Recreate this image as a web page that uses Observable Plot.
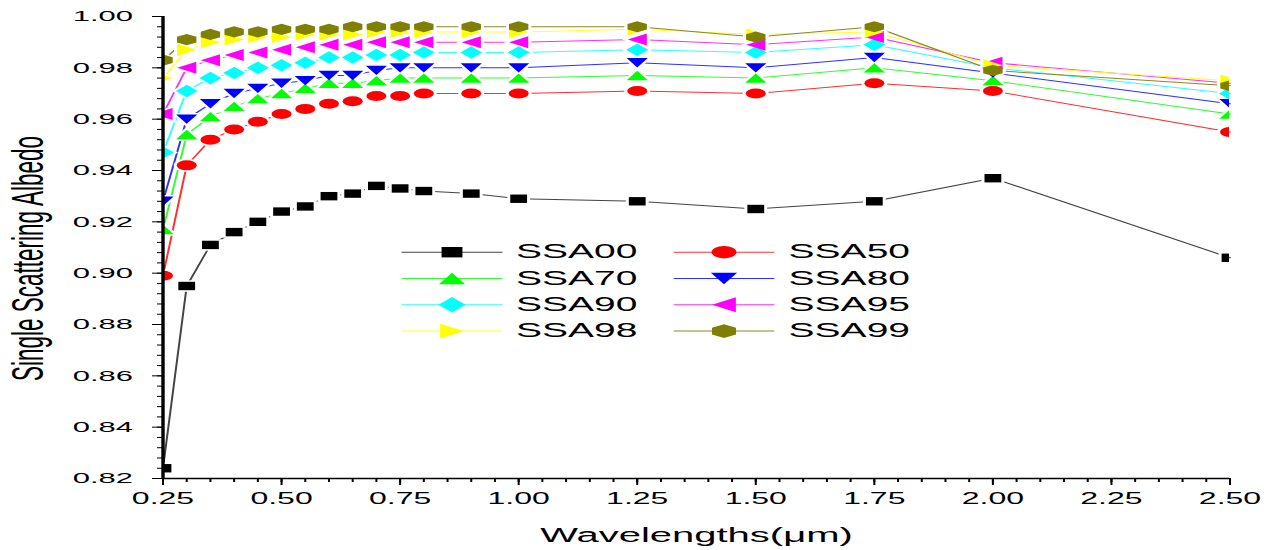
<!DOCTYPE html>
<html><head><meta charset="utf-8">
<script src="https://cdn.jsdelivr.net/npm/d3@7"></script>
<script src="https://cdn.jsdelivr.net/npm/@observablehq/plot@0.6"></script>
<style>html,body{margin:0;padding:0;background:#fff;} #chart svg{display:block;}</style>
</head><body><div id="chart"></div>
<script>
// ---- data ----
const wavelengths = [0.25,0.30,0.35,0.40,0.45,0.50,0.55,0.60,0.65,0.70,0.75,0.80,0.90,1.00,1.25,1.50,1.75,2.00,2.50];
const seriesNames = ["SSA00","SSA50","SSA70","SSA80","SSA90","SSA95","SSA98","SSA99"];
const ssa00 = [0.824,0.895,0.911,0.916,0.920,0.924,0.926,0.930,0.931,0.934,0.933,0.932,0.931,0.929,0.928,0.925,0.928,0.937,0.906];
const ssa50 = [0.899,0.942,0.952,0.956,0.959,0.962,0.964,0.966,0.967,0.969,0.969,0.970,0.970,0.970,0.971,0.970,0.974,0.971,0.955];
const ssa70 = [0.917,0.954,0.961,0.965,0.968,0.970,0.972,0.974,0.974,0.975,0.976,0.976,0.976,0.976,0.977,0.976,0.980,0.975,0.962];
const ssa80 = [0.928,0.960,0.966,0.970,0.972,0.974,0.975,0.977,0.977,0.979,0.980,0.980,0.980,0.980,0.982,0.980,0.984,0.978,0.966];
const ssa90 = [0.947,0.971,0.976,0.978,0.980,0.981,0.982,0.984,0.984,0.985,0.985,0.986,0.986,0.986,0.987,0.986,0.989,0.980,0.970];
const ssa95 = [0.962,0.980,0.983,0.985,0.986,0.987,0.988,0.989,0.989,0.990,0.990,0.990,0.990,0.990,0.991,0.989,0.992,0.982,0.974];
const ssa98 = [0.976,0.987,0.990,0.991,0.992,0.992,0.993,0.993,0.993,0.994,0.994,0.994,0.994,0.994,0.995,0.993,0.994,0.981,0.975];
const ssa99 = [0.983,0.991,0.993,0.994,0.994,0.995,0.995,0.995,0.996,0.996,0.996,0.996,0.996,0.996,0.996,0.992,0.996,0.979,0.973];
const xTicks = [0.25,0.50,0.75,1.00,1.25,1.50,1.75,2.00,2.25,2.50];
const yTicks = [0.82,0.84,0.86,0.88,0.90,0.92,0.94,0.96,0.98,1.00];
const xLabel = "Wavelengths(\u03BCm)";
const yLabel = "Single Scattering Albedo";

// ---- styles ----
const seriesValues = [ssa00, ssa50, ssa70, ssa80, ssa90, ssa95, ssa98, ssa99];
const colors = ["#000000","#ff0000","#00ff00","#0000ff","#00ffff","#ff00ff","#ffff00","#808000"];
const lineColors = ["#444444","#ff3030","#30ff30","#3030ff","#30ffff","#ff30ff","#ffff30","#8a8a20"];

function poly(pts) {
  return {draw(c, s) {
    const k = Math.sqrt(s / Math.PI) / 5;
    pts.forEach(([x, y], i) => i ? c.lineTo(x * k, y * k) : c.moveTo(x * k, y * k));
    c.closePath();
  }};
}
const circleSym = {draw(c, s) { const r = Math.sqrt(s / Math.PI); c.moveTo(r, 0); c.arc(0, 0, r, 0, 2 * Math.PI); }};
const hexR = 5.6, hx = 0.866 * hexR;
const symbols = [
  poly([[-4.2,-4.2],[4.2,-4.2],[4.2,4.2],[-4.2,4.2]]),            // square
  circleSym,                                                     // circle
  poly([[0,-4.7],[5.3,4.7],[-5.3,4.7]]),                          // up triangle
  poly([[0,4.7],[5.3,-4.7],[-5.3,-4.7]]),                         // down triangle
  poly([[0,-6.3],[5.5,0],[0,6.3],[-5.5,0]]),                      // diamond
  poly([[-4.8,0],[4.8,-6],[4.8,6]]),                              // left triangle
  poly([[4.8,0],[-4.8,-6],[-4.8,6]]),                             // right triangle
  poly([[0,-hexR],[hx,-hexR/2],[hx,hexR/2],[0,hexR],[-hx,hexR/2],[-hx,-hexR/2]]) // hexagon
];
const hline = {draw(c) { c.moveTo(-25.2, 0); c.lineTo(25.2, 0); }};

const table = seriesNames.flatMap((name, i) => wavelengths.map((w, j) => ({series: name, x: w, y: seriesValues[i][j]})));

const W = 635, H = 550;
const mL = 81, mR = 20.5, mT = 16, mB = 72;
const xMinor = d3.range(0, 46).map(i => 0.25 + i * 0.05).filter(v => v <= 2.5001);
const yMinor = d3.range(0, 46).map(i => 0.82 + i * 0.004).filter(v => v <= 1.0001);
const fmt = d3.format(".2f");

const marks = [];
// lines
seriesNames.forEach((name, i) => {
  marks.push(Plot.line(table.filter(d => d.series === name), {x: "x", y: "y", stroke: lineColors[i], strokeWidth: 1}));
});
// halos (gap around markers)
seriesNames.forEach((name, i) => {
  marks.push(Plot.dot(table.filter(d => d.series === name), {x: "x", y: "y", symbol: symbols[i], r: 5, fill: "white", stroke: "white", strokeWidth: 3, clip: true}));
});
// markers
seriesNames.forEach((name, i) => {
  marks.push(Plot.dot(table.filter(d => d.series === name), {x: "x", y: "y", symbol: symbols[i], r: 5, fill: colors[i], stroke: "none", clip: true}));
});
// axes
marks.push(
  Plot.axisX(xMinor, {tickSize: 4, tickFormat: () => "", strokeWidth: 1, label: null}),
  Plot.axisX(xTicks, {tickSize: 7, tickPadding: 7, tickFormat: fmt, strokeWidth: 1, fontSize: 16, fill: "black", label: null}),
  Plot.axisY(yMinor, {tickSize: 2.5, tickFormat: () => "", strokeWidth: 1, label: null}),
  Plot.axisY(yTicks, {tickSize: 5, tickPadding: 10, tickFormat: fmt, strokeWidth: 1, fontSize: 15.5, fill: "black", label: null}),
  Plot.ruleX([xTicks[0]], {stroke: "black", strokeWidth: 1.7}),
  Plot.ruleY([yTicks[0]], {stroke: "black", strokeWidth: 1.6}),
  Plot.text([xLabel], {frameAnchor: "bottom", dy: 57, lineAnchor: "middle", textAnchor: "middle", fontSize: 20, fill: "black"}),
  Plot.text([yLabel], {frameAnchor: "left", dx: -67, dy: 11, rotate: -90, textAnchor: "middle", lineAnchor: "middle", fontSize: 22.5, fill: "black"})
);
// legend
const legRow0 = 235.7, legStep = 26.3;
const legCols = [{line: 144.5, text: 176.5}, {line: 280.5, text: 312.8}];
seriesNames.forEach((name, i) => {
  const col = legCols[i % 2], dy = legRow0 + Math.floor(i / 2) * legStep;
  marks.push(
    Plot.dot([name], {frameAnchor: "top-left", dx: col.line, dy, symbol: hline, r: 5, fill: "none", stroke: lineColors[i], strokeWidth: 1}),
    Plot.dot([name], {frameAnchor: "top-left", dx: col.line, dy, symbol: symbols[i], r: 6.2, fill: colors[i], stroke: "none"}),
    Plot.text([name], {frameAnchor: "top-left", dx: col.text, dy, text: d => d, textAnchor: "start", lineAnchor: "middle", fontSize: 19.5, fill: "black"})
  );
});

const chart = Plot.plot({
  width: W, height: H,
  marginLeft: mL, marginRight: mR, marginTop: mT, marginBottom: mB,
  style: {fontFamily: "'Liberation Sans', Arial, sans-serif", background: "white", color: "black"},
  x: {domain: [0.25, 2.5], label: null},
  y: {domain: [0.82, 1.0], label: null},
  marks
});
chart.setAttribute("width", 1270);
chart.setAttribute("height", 550);
chart.setAttribute("viewBox", `0 0 ${W} ${H}`);
chart.setAttribute("preserveAspectRatio", "none");
chart.style.maxWidth = "none";
chart.style.width = "1270px";
chart.style.height = "550px";
document.getElementById("chart").appendChild(chart);
</script>
</body></html>
